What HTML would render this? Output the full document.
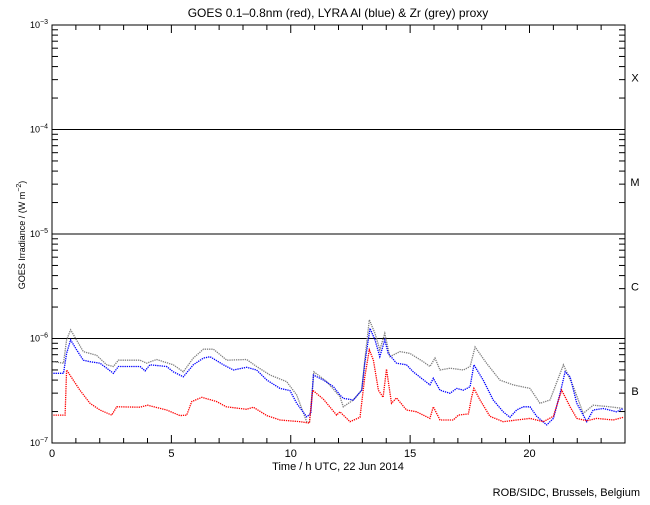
<!DOCTYPE html>
<html><head><meta charset="utf-8"><style>
body{margin:0;background:#fff}
svg text{font-family:"Liberation Sans",sans-serif;fill:#000}
</style></head><body>
<svg id="chart" width="650" height="500" xmlns="http://www.w3.org/2000/svg">
<rect width="650" height="500" fill="#fff"/>
<text x="338" y="17" font-size="12" text-anchor="middle">GOES 0.1–0.8nm (red), LYRA Al (blue) &amp; Zr (grey) proxy</text>
<text x="338" y="470" font-size="11" text-anchor="middle">Time / h UTC, 22 Jun 2014</text>
<text x="640" y="496" font-size="11" text-anchor="end">ROB/SIDC, Brussels, Belgium</text>
<text transform="translate(25,235) rotate(-90)" font-size="9" text-anchor="middle">GOES Irradiance / (W m<tspan dy="-4" font-size="7">−2</tspan><tspan dy="4">)</tspan></text>
<g id="axes"></g>
<g id="series"></g>
</svg>
<script>
const redHours=[0.06,0.55,0.61,1.17,1.59,2.01,2.5,2.71,3.69,4.0,4.8,5.36,5.64,5.85,6.28,6.9,7.3,8.15,8.43,9.0,9.55,10.4,10.78,10.92,11.37,11.92,12.06,12.48,12.9,13.1,13.29,13.46,13.67,13.87,14.01,14.22,14.43,14.85,15.27,15.83,15.97,16.25,16.81,17.02,17.44,17.58,17.67,17.92,18.34,18.9,19.46,20.02,20.58,21.0,21.35,21.7,21.98,22.4,22.81,23.51,23.93];
const redValues=[1.85,1.85,5.0,3.2,2.4,2.07,1.85,2.22,2.2,2.3,2.07,1.83,1.85,2.49,2.74,2.49,2.22,2.1,2.2,1.83,1.66,1.6,1.55,3.2,2.62,1.85,1.99,1.6,1.76,4.3,7.8,6.2,3.2,2.74,5.1,2.4,2.7,2.07,1.99,1.72,2.22,1.66,1.66,1.85,1.9,2.77,3.33,2.6,1.8,1.6,1.66,1.72,1.6,1.8,3.2,2.22,1.72,1.63,1.72,1.66,1.76];
const blueHours=[0.06,0.48,0.61,0.78,1.03,1.31,1.59,2.01,2.29,2.57,2.78,3.69,3.9,4.1,4.8,5.08,5.5,5.92,6.34,6.62,7.18,7.6,8.15,8.57,9.0,9.55,9.97,10.25,10.67,10.84,10.95,11.37,11.79,12.06,12.2,12.62,12.97,13.1,13.32,13.53,13.73,13.94,14.08,14.43,14.85,15.13,15.83,15.97,16.25,16.67,16.95,17.23,17.51,17.67,18.06,18.48,18.9,19.18,19.46,19.74,20.02,20.3,20.72,21.0,21.28,21.49,21.7,21.98,22.4,22.67,23.09,23.65,23.93];
const blueValues=[4.65,4.65,7.2,9.7,7.8,6.2,6.0,5.8,5.2,4.65,5.4,5.4,4.9,5.6,5.4,4.8,4.3,5.6,6.5,6.7,5.6,5.0,5.3,5.0,4.0,3.33,3.17,2.4,1.78,1.92,4.47,4.0,3.46,2.88,2.68,2.58,3.2,5.8,12.5,9.7,6.7,9.7,7.2,5.8,5.6,4.8,3.6,4.16,3.2,2.99,3.33,3.2,3.46,5.6,4.0,2.58,1.99,1.76,2.07,2.22,2.22,1.8,1.49,1.72,2.99,4.8,4.3,2.4,1.6,2.07,2.14,1.99,2.14];
const greyHours=[0.06,0.48,0.61,0.78,1.31,1.87,2.29,2.57,2.78,3.69,3.96,4.38,5.08,5.5,5.92,6.34,6.76,7.32,8.15,8.57,9.13,9.83,10.25,10.67,10.78,10.97,11.51,12.06,12.2,12.62,12.97,13.1,13.29,13.53,13.73,13.94,14.15,14.57,14.99,15.55,15.83,16.04,16.25,16.67,17.23,17.51,17.72,18.2,18.76,19.32,20.02,20.44,20.86,21.42,21.84,22.25,22.67,23.37,23.93];
const greyValues=[6.0,5.8,9.7,12.1,7.5,6.9,5.6,5.4,6.2,6.2,5.8,6.3,5.6,4.8,6.5,7.9,7.9,6.2,6.3,5.4,4.47,3.86,2.88,1.6,1.55,4.8,3.86,2.78,2.22,2.58,3.2,6.2,15.1,11.2,7.8,11.2,6.7,7.5,7.2,6.0,5.4,6.5,5.0,5.2,5.0,5.4,8.3,5.8,4.0,3.6,3.33,2.4,2.58,5.6,3.46,1.92,2.3,2.22,2.14];
const valueScale=1e-7;
const xTickLabels=["0","5","10","15","20"];
const xTickValues=[0,5,10,15,20];
const decadeExps=[-3,-4,-5,-6,-7];
const classLetters=["X","M","C","B"];

const L=52,R=625,T=25,B=443;
const xs=h=>L+(h/24)*(R-L);
const ys=v=>B-(Math.log10(v)+7)/4*(B-T);
const NS="http://www.w3.org/2000/svg";
function mk(tag,attrs,parent){const e=document.createElementNS(NS,tag);for(const k in attrs)e.setAttribute(k,attrs[k]);parent.appendChild(e);return e;}
const ax=document.getElementById('axes');
let frame=mk('rect',{x:L,y:T,width:R-L,height:B-T,fill:'none',stroke:'#000','stroke-width':1},ax);


for(let h=1;h<24;h++){
  const x=xs(h),len=(h%5===0)?8:5;
  let t1=mk('line',{x1:x,x2:x,y1:B,y2:B-len,stroke:'#000'},ax);
  
  
  let t2=mk('line',{x1:x,x2:x,y1:T,y2:T+len,stroke:'#000'},ax);
  
  
}
xTickValues.forEach((v,i)=>{
  let t=mk('text',{x:xs(v),y:457,'font-size':11,'text-anchor':'middle'},ax);t.textContent=xTickLabels[i];
  
  
});
decadeExps.forEach(e=>{
  const y=ys(Math.pow(10,e));
  if(e>-7&&e<-3){let g=mk('line',{x1:L,x2:R,y1:y,y2:y,stroke:'#000'},ax);
    
    }
  let t=mk('text',{x:48,y:y+3,'font-size':9,'text-anchor':'end'},ax);
  t.innerHTML='10<tspan dy="-4" font-size="7">'+(e).toString().replace('-','−')+'</tspan>';
  
  
  if(e>-7){for(let m=2;m<=9;m++){const yy=ys(m*Math.pow(10,e-1));
    let a=mk('line',{x1:L,x2:L+6,y1:yy,y2:yy,stroke:'#000'},ax);
    
    
    let b=mk('line',{x1:R,x2:R-6,y1:yy,y2:yy,stroke:'#000'},ax);
    
    }}
});
classLetters.forEach((c,i)=>{
  const y=ys(Math.pow(10,-3.5-i));
  let t=mk('text',{x:635,y:y+4,'font-size':11,'text-anchor':'middle'},ax);t.textContent=c;
  
  
});
const sg=document.getElementById('series');
function draw(hours,vals,color,name){
  const pts=hours.map((h,i)=>xs(h).toFixed(1)+','+ys(vals[i]*valueScale).toFixed(1)).join(' ');
  let p=mk('polyline',{points:pts,fill:'none',stroke:color,'stroke-width':1.3,'stroke-dasharray':'1.3 0.9'},sg);
  
  
}
draw(greyHours,greyValues,'#808080','zr-grey-series');
draw(blueHours,blueValues,'#0000ff','al-blue-series');
draw(redHours,redValues,'#ff0000','goes-red-series');
</script>
</body></html>
